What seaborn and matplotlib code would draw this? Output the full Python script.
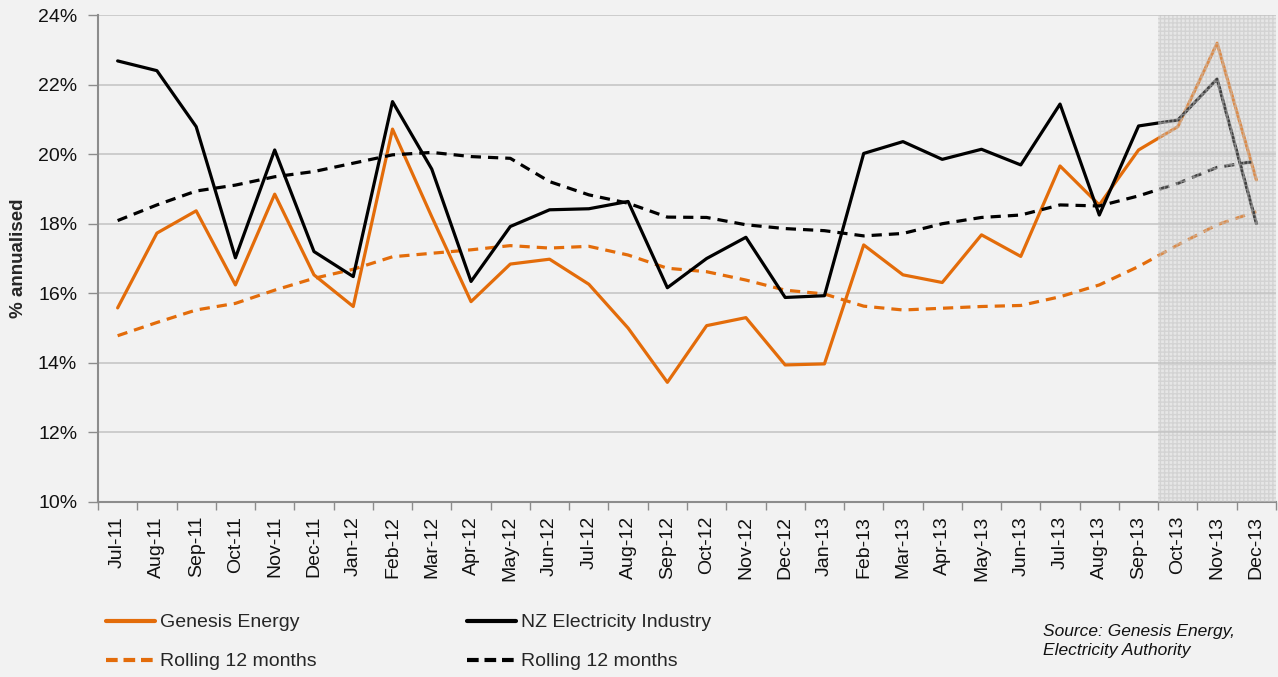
import numpy as np
import pandas as pd
import matplotlib
matplotlib.use("Agg")
import matplotlib.pyplot as plt
import seaborn as sns
from matplotlib.lines import Line2D
from matplotlib.ticker import FixedLocator

months = ["Jul-11", "Aug-11", "Sep-11", "Oct-11", "Nov-11", "Dec-11",
          "Jan-12", "Feb-12", "Mar-12", "Apr-12", "May-12", "Jun-12",
          "Jul-12", "Aug-12", "Sep-12", "Oct-12", "Nov-12", "Dec-12",
          "Jan-13", "Feb-13", "Mar-13", "Apr-13", "May-13", "Jun-13",
          "Jul-13", "Aug-13", "Sep-13", "Oct-13", "Nov-13", "Dec-13"]

genesis = [15.58, 17.73, 18.37, 16.24, 18.85, 16.53, 15.62, 20.72, 18.2, 15.76,
           16.84, 16.98, 16.26, 15.0, 13.44, 15.07, 15.3, 13.94, 13.97, 17.39,
           16.53, 16.31, 17.68, 17.06, 19.66, 18.54, 20.12, 20.79, 23.19, 19.26]
genesis_roll = [14.78, 15.16, 15.52, 15.71, 16.09, 16.43, 16.69, 17.05, 17.15, 17.25,
                17.37, 17.3, 17.35, 17.1, 16.72, 16.62, 16.38, 16.09, 15.98, 15.63,
                15.52, 15.57, 15.62, 15.65, 15.9, 16.24, 16.77, 17.39, 17.97, 18.35]
industry = [22.68, 22.4, 20.79, 17.02, 20.12, 17.2, 16.48, 21.51, 19.57, 16.34,
            17.92, 18.4, 18.43, 18.64, 16.16, 17.0, 17.61, 15.88, 15.93, 20.02,
            20.36, 19.85, 20.14, 19.69, 21.44, 18.25, 20.81, 20.98, 22.16, 18.01]
industry_roll = [18.09, 18.54, 18.94, 19.11, 19.35, 19.5, 19.74, 19.98, 20.05, 19.93,
                 19.88, 19.21, 18.83, 18.59, 18.19, 18.18, 17.97, 17.86, 17.8, 17.65,
                 17.72, 18.0, 18.18, 18.25, 18.54, 18.51, 18.8, 19.16, 19.62, 19.8]

y_ticks = [10, 12, 14, 16, 18, 20, 22, 24]
forecast_start = "Oct-13"

ORANGE = "#e36c0a"
BLACK = "#000000"
BG = "#f2f2f2"

sns.set_theme(style="white")
plt.rcParams["font.family"] = ["Liberation Sans", "DejaVu Sans"]

W, H = 1278, 677
fig = plt.figure(figsize=(W / 100, H / 100), dpi=100, facecolor=BG)
ax = fig.add_axes([98 / W, 1 - 502 / H, 1178 / W, 487 / H], facecolor=BG)

x = np.arange(len(months))
df = pd.DataFrame({"x": x, "genesis": genesis, "genesis_roll": genesis_roll,
                   "industry": industry, "industry_roll": industry_roll})

dash = (3.2, 2.2)
sns.lineplot(data=df, x="x", y="genesis", ax=ax, color=ORANGE, lw=2.3, zorder=3)
sns.lineplot(data=df, x="x", y="genesis_roll", ax=ax, color=ORANGE, lw=2.3, zorder=3).lines[-1].set_dashes(dash)
sns.lineplot(data=df, x="x", y="industry", ax=ax, color=BLACK, lw=2.3, zorder=3)
sns.lineplot(data=df, x="x", y="industry_roll", ax=ax, color=BLACK, lw=2.3, zorder=3).lines[-1].set_dashes(dash)

# shaded forecast region (overlaid on lines)
fs = months.index(forecast_start) - 0.5
ax.axvspan(fs, len(months) - 0.5, facecolor="#cfcfcf", alpha=0.32, zorder=4, lw=0)
ax.axvspan(fs, len(months) - 0.5, facecolor="none", edgecolor="#c2c2c2", hatch="++++",
           alpha=0.5, zorder=4, lw=0)

ax.set_xlim(-0.5, len(months) - 0.5)
ax.set_ylim(10, 24)
ax.set_yticks(y_ticks)
ax.set_yticklabels([f"{v}%" for v in y_ticks], fontsize=14, color="#111111")
ax.yaxis.grid(True, color="#c6c6c6", lw=1.2)
ax.set_axisbelow(True)

ax.set_xticks(x)
ax.set_xticklabels(months, rotation=90, fontsize=14, color="#111111")
ax.xaxis.set_minor_locator(FixedLocator(np.arange(-0.5, len(months), 1.0)))
ax.tick_params(axis="x", which="major", length=0, pad=10)
ax.tick_params(axis="x", which="minor", length=6, width=1, color="#8c8c8c", direction="out", bottom=True)
ax.tick_params(axis="y", which="major", length=7, width=1, color="#8c8c8c", direction="out", left=True, pad=8)

for s in ["top", "right"]:
    ax.spines[s].set_visible(False)
for s in ["left", "bottom"]:
    ax.spines[s].set_color("#8c8c8c")
    ax.spines[s].set_linewidth(1.5)

ax.set_xlabel("")
ax.set_ylabel("% annualised", fontsize=13.5, fontweight="bold")
ax.yaxis.set_label_coords((27 - 98) / 1178, 0.5)

leg_kw = dict(loc="center left", frameon=False, fontsize=14, handlelength=2.5,
              handletextpad=0.3, labelspacing=1.1, borderaxespad=0, borderpad=0)
h_gen = [Line2D([], [], color=ORANGE, lw=3), Line2D([], [], color=ORANGE, lw=3, dashes=(2.8, 1.4))]
h_ind = [Line2D([], [], color=BLACK, lw=3), Line2D([], [], color=BLACK, lw=3, dashes=(2.8, 1.4))]
fig.legend(h_gen, ["Genesis Energy", "Rolling 12 months"],
           bbox_to_anchor=(106 / W, 1 - 642 / H), **leg_kw)
fig.legend(h_ind, ["NZ Electricity Industry", "Rolling 12 months"],
           bbox_to_anchor=(467 / W, 1 - 642 / H), **leg_kw)

fig.text(1043 / W, 1 - 641 / H, "Source: Genesis Energy,\nElectricity Authority", fontsize=12.5,
         style="italic", va="center", ha="left", linespacing=1.3, color="#111111")

fig.savefig("out.png", dpi=100, facecolor=BG)
